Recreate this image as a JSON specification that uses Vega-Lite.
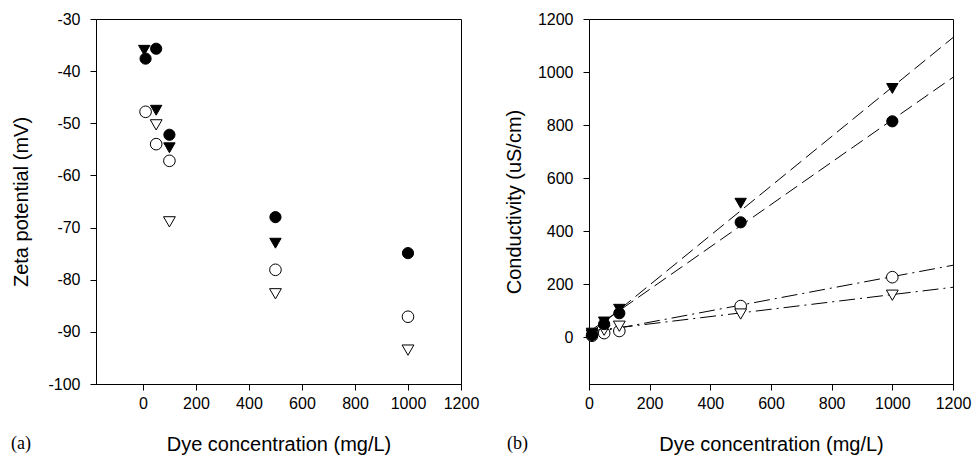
{
  "$schema": "https://vega.github.io/schema/vega-lite/v6.json",
  "autosize": {"type": "pad"},
  "padding": {"left": 10, "top": 10, "right": 0, "bottom": 0},
  "bounds": "flush",
  "spacing": 128,
  "background": "white",
  "config": {
    "view": {"stroke": "black", "strokeWidth": 1},
    "axis": {
      "grid": false,
      "format": "d",
      "domainColor": "black",
      "tickColor": "black",
      "tickSize": 6,
      "labelFont": "Liberation Sans",
      "labelFontSize": 16,
      "labelColor": "black",
      "labelFlush": false,
      "labelOverlap": false,
      "titleFont": "Liberation Sans",
      "titleFontSize": 20,
      "titleFontWeight": "normal",
      "titleColor": "black"
    },
    "axisX": {"labelPadding": 5, "titleY": 66, "titleBaseline": "alphabetic"},
    "axisY": {"labelPadding": 10, "titleX": -75, "titleAngle": -90, "titleBaseline": "middle", "titleAlign": "center"},
    "title": {"font": "Liberation Serif", "fontSize": 18, "fontWeight": "normal", "color": "black"}
  },
  "datasets": {
    "zeta": [
      {"series": "s1", "conc": 10, "value": -37.6},
      {"series": "s1", "conc": 50, "value": -35.7},
      {"series": "s1", "conc": 100, "value": -52.2},
      {"series": "s1", "conc": 500, "value": -68.0},
      {"series": "s1", "conc": 1000, "value": -74.9},
      {"series": "s2", "conc": 5, "value": -36.0},
      {"series": "s2", "conc": 50, "value": -47.5},
      {"series": "s2", "conc": 100, "value": -54.7},
      {"series": "s2", "conc": 500, "value": -73.0},
      {"series": "s3", "conc": 10, "value": -47.8},
      {"series": "s3", "conc": 50, "value": -54.0},
      {"series": "s3", "conc": 100, "value": -57.2},
      {"series": "s3", "conc": 500, "value": -78.1},
      {"series": "s3", "conc": 1000, "value": -87.1},
      {"series": "s4", "conc": 50, "value": -50.3},
      {"series": "s4", "conc": 100, "value": -68.9},
      {"series": "s4", "conc": 500, "value": -82.7},
      {"series": "s4", "conc": 1000, "value": -93.5}
    ],
    "cond": [
      {"series": "s3", "conc": 10, "value": 5},
      {"series": "s3", "conc": 50, "value": 15},
      {"series": "s3", "conc": 100, "value": 23},
      {"series": "s3", "conc": 500, "value": 117},
      {"series": "s3", "conc": 1000, "value": 226},
      {"series": "s4", "conc": 10, "value": 8},
      {"series": "s4", "conc": 50, "value": 26},
      {"series": "s4", "conc": 100, "value": 41},
      {"series": "s4", "conc": 500, "value": 87},
      {"series": "s4", "conc": 1000, "value": 158},
      {"series": "s2", "conc": 10, "value": 15},
      {"series": "s2", "conc": 50, "value": 57},
      {"series": "s2", "conc": 100, "value": 105},
      {"series": "s2", "conc": 500, "value": 505},
      {"series": "s2", "conc": 1000, "value": 938},
      {"series": "s1", "conc": 10, "value": 8},
      {"series": "s1", "conc": 50, "value": 49},
      {"series": "s1", "conc": 100, "value": 90},
      {"series": "s1", "conc": 500, "value": 433},
      {"series": "s1", "conc": 1000, "value": 814}
    ],
    "fits": [
      {"series": "s1", "conc": 0, "value": 20},
      {"series": "s1", "conc": 1200, "value": 980},
      {"series": "s2", "conc": 0, "value": 10},
      {"series": "s2", "conc": 1200, "value": 1130},
      {"series": "s3", "conc": 0, "value": 13},
      {"series": "s3", "conc": 1200, "value": 271},
      {"series": "s4", "conc": 0, "value": 22},
      {"series": "s4", "conc": 1200, "value": 188}
    ]
  },
  "hconcat": [
    {
      "width": 365,
      "height": 365,
      "title": {"text": "(a)", "orient": "bottom", "anchor": "start", "frame": "group", "dx": -85, "offset": -5, "baseline": "alphabetic"},
      "data": {"name": "zeta"},
      "mark": {"type": "point", "filled": true, "stroke": "black", "strokeWidth": 1, "opacity": 1},
      "encoding": {
        "x": {"field": "conc", "type": "quantitative", "scale": {"domain": [-177, 1200], "nice": false, "zero": false},
              "axis": {"title": "Dye concentration (mg/L)", "values": [0, 200, 400, 600, 800, 1000, 1200]}},
        "y": {"field": "value", "type": "quantitative", "scale": {"domain": [-100, -30], "nice": false, "zero": false},
              "axis": {"title": "Zeta potential (mV)", "values": [-100, -90, -80, -70, -60, -50, -40, -30], "labelExpr": "replace(datum.label, '\u2212', '-')"}},
        "shape": {"field": "series", "type": "nominal", "scale": {"domain": ["s1", "s2", "s3", "s4"], "range": ["circle", "triangle-down", "circle", "triangle-down"]}, "legend": null},
        "fill": {"field": "series", "type": "nominal", "scale": {"domain": ["s1", "s2", "s3", "s4"], "range": ["black", "black", "white", "white"]}, "legend": null},
        "size": {"field": "series", "type": "nominal", "scale": {"domain": ["s1", "s2", "s3", "s4"], "range": [125, 140, 125, 140]}, "legend": null}
      }
    },
    {
      "width": 364,
      "height": 365,
      "title": {"text": "(b)", "orient": "bottom", "anchor": "start", "frame": "group", "dx": -82, "offset": -5, "baseline": "alphabetic"},
      "encoding": {
        "x": {"field": "conc", "type": "quantitative", "scale": {"domain": [0, 1200], "nice": false, "zero": false},
              "axis": {"title": "Dye concentration (mg/L)", "values": [0, 200, 400, 600, 800, 1000, 1200]}},
        "y": {"field": "value", "type": "quantitative", "scale": {"domain": [-177, 1200], "nice": false, "zero": false},
              "axis": {"title": "Conductivity (uS/cm)", "values": [0, 200, 400, 600, 800, 1000, 1200]}}
      },
      "layer": [
        {
          "data": {"name": "fits"},
          "transform": [{"filter": "datum.series == 's1' || datum.series == 's2'"}],
          "mark": {"type": "line", "color": "black", "strokeWidth": 1, "strokeDash": [14, 6]},
          "encoding": {"detail": {"field": "series"}}
        },
        {
          "data": {"name": "fits"},
          "transform": [{"filter": "datum.series == 's3' || datum.series == 's4'"}],
          "mark": {"type": "line", "color": "black", "strokeWidth": 1, "strokeDash": [16, 5, 2, 5]},
          "encoding": {"detail": {"field": "series"}}
        },
        {
          "data": {"name": "cond"},
          "mark": {"type": "point", "filled": true, "stroke": "black", "strokeWidth": 1, "opacity": 1},
          "encoding": {
            "shape": {"field": "series", "type": "nominal", "scale": {"domain": ["s1", "s2", "s3", "s4"], "range": ["circle", "triangle-down", "circle", "triangle-down"]}, "legend": null},
            "fill": {"field": "series", "type": "nominal", "scale": {"domain": ["s1", "s2", "s3", "s4"], "range": ["black", "black", "white", "white"]}, "legend": null},
            "size": {"field": "series", "type": "nominal", "scale": {"domain": ["s1", "s2", "s3", "s4"], "range": [125, 140, 125, 140]}, "legend": null}
          }
        }
      ]
    }
  ]
}
